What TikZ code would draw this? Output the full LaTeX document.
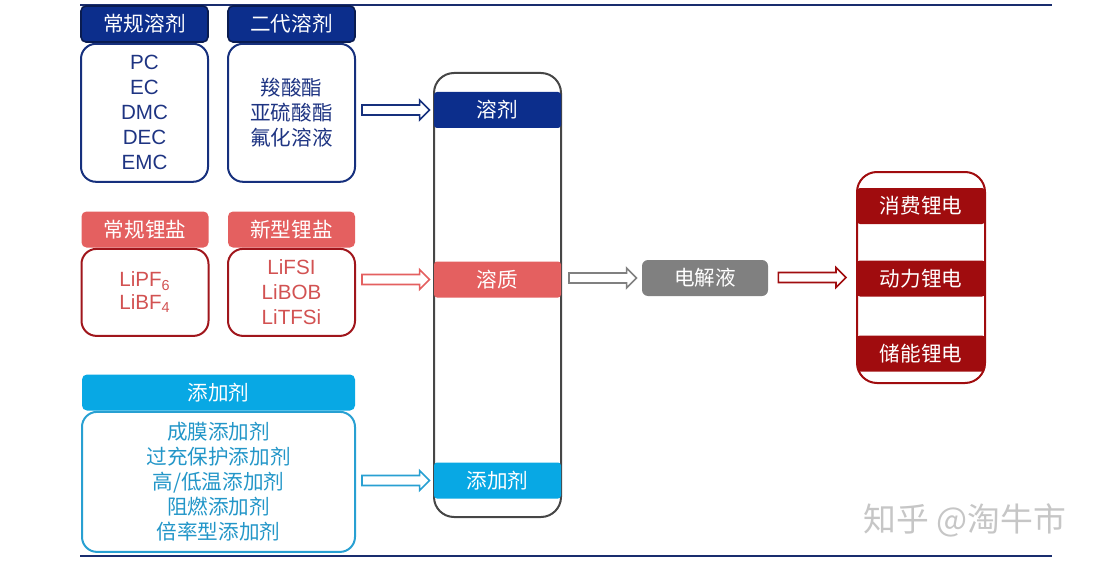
\documentclass[tikz,border=0pt]{standalone}
\usepackage{fontspec}
\setmainfont{Liberation Sans}
\newfontfamily\cjk{Noto Sans CJK SC}
\usetikzlibrary{positioning,calc}

\definecolor{navy}{RGB}{12,46,140}
\definecolor{navydark}{RGB}{10,28,80}
\definecolor{navyline}{RGB}{22,48,125}
\definecolor{navytext}{RGB}{30,52,130}
\definecolor{salmon}{RGB}{228,96,96}
\definecolor{salmontext}{RGB}{210,82,82}
\definecolor{winered}{RGB}{160,22,28}
\definecolor{skyblue}{RGB}{8,168,228}
\definecolor{skytext}{RGB}{35,150,200}
\definecolor{skyline}{RGB}{40,160,210}
\definecolor{midgray}{RGB}{70,70,70}
\definecolor{elgray}{RGB}{128,128,128}
\definecolor{darkred}{RGB}{160,12,14}
\definecolor{rulecol}{RGB}{25,45,110}

\newcommand\zhfont{\cjk\fontsize{10.3}{12.5}\selectfont}
\newcommand\enfont{\fontsize{10.3}{12.5}\selectfont}

\tikzset{
  hdr/.style={rounded corners=2.5pt, minimum width=63.5pt, minimum height=18pt,
    inner sep=0pt, text=white, font=\zhfont},
  listbox/.style={draw, line width=1pt, rounded corners=7.5pt, minimum width=63.5pt,
    inner sep=0pt, align=center, font=\zhfont},
  bar/.style={rounded corners=1.5pt, minimum width=63.5pt, minimum height=18pt,
    inner sep=0pt, text=white, font=\zhfont},
  tallbox/.style={line width=1pt, rounded corners=10pt, minimum width=63.5pt},
  fatarrow/.style 2 args={line width=0.8pt, fill=white, to path={
    let \p1=(\tikztostart), \p2=(\tikztotarget) in
    (\x1+#1,\y2+2.5pt) -- (\x2-#2-5pt,\y2+2.5pt) -- (\x2-#2-5pt,\y2+5pt)
    -- (\x2-#2,\y2) -- (\x2-#2-5pt,\y2-5pt) -- (\x2-#2-5pt,\y2-2.5pt)
    -- (\x1+#1,\y2-2.5pt) -- cycle}},
  rule/.style={draw=rulecol, line width=1pt}
}

\begin{document}
\begin{tikzpicture}[x=0.5pt, y=-0.5pt]
\useasboundingbox (0,0) rectangle (1097,567);

\draw[rule] (80,5) -- (1052,5);
\draw[rule] (80,556) -- (1052,556);

% solvents
\node[hdr, fill=navy, draw=navydark, line width=0.8pt] (hsolv1) at (144.5,24) {常规溶剂};
\node[listbox, draw=navyline, text=navytext, minimum height=69pt, font=\enfont,
  below=0pt of hsolv1] (solv1) {PC\\EC\\DMC\\DEC\\EMC};
\node[hdr, fill=navy, draw=navydark, line width=0.8pt] (hsolv2) at (291.5,24) {二代溶剂};
\node[listbox, draw=navyline, text=navytext, minimum height=69pt,
  below=0pt of hsolv2] (solv2) {羧酸酯\\亚硫酸酯\\氟化溶液};

% solutes
\node[hdr, fill=salmon] (hsolu1) at (145,229.5) {常规锂盐};
\node[listbox, draw=winered, text=salmontext, minimum height=43.5pt, font=\fontsize{10.3}{11.5}\selectfont,
  below=0pt of hsolu1] (solu1) {LiPF\textsubscript{6}\\LiBF\textsubscript{4}};
\node[hdr, fill=salmon] (hsolu2) at (291.5,229.5) {新型锂盐};
\node[listbox, draw=winered, text=salmontext, minimum height=43.5pt, font=\enfont,
  below=0pt of hsolu2] (solu2) {LiFSI\\LiBOB\\LiTFSi};

% additives
\node[hdr, fill=skyblue, minimum width=136.5pt] (hadd) at (218.5,392.5) {添加剂};
\node[listbox, draw=skyline, text=skytext, minimum width=136.5pt, minimum height=70pt,
  below=0pt of hadd] (add) {成膜添加剂\\过充保护添加剂\\高/低温添加剂\\阻燃添加剂\\倍率型添加剂};

% mixture column
\node[tallbox, draw=midgray, minimum height=222pt] (mix) at (497.5,295) {};
\node[bar, fill=navy] (bsolv) at (497.5,110) {溶剂};
\node[bar, fill=salmon] (bsolu) at (497.5,279.5) {溶质};
\node[bar, fill=skyblue] (badd) at (497.5,480.5) {添加剂};

% electrolyte
\node[bar, fill=elgray, rounded corners=3pt, minimum width=63pt] (elec) at (705,278) {电解液};

% applications
\node[tallbox, draw=darkred, minimum width=64pt, minimum height=105.5pt] (app) at (921,277.5) {};
\node[bar, fill=darkred, minimum width=64pt] (consumer) at (921,206) {消费锂电};
\node[bar, fill=darkred, minimum width=64pt] (power) at (921,278.5) {动力锂电};
\node[bar, fill=darkred, minimum width=64pt] (storage) at (921,353.5) {储能锂电};

% arrows
\draw[fatarrow={3pt}{2pt}, draw=navyline] (solv2.east) to (bsolv.west);
\draw[fatarrow={3pt}{2pt}, draw=salmon] (solu2.east) to (bsolu.west);
\draw[fatarrow={3pt}{2pt}, draw=skyline] (add.east) to (badd.west);
\draw[fatarrow={3.5pt}{2.5pt}, draw=elgray] (mix.east) to (elec.west);
\draw[fatarrow={5pt}{5pt}, draw=darkred] (elec.east) to (app.west);

\node[text=gray!45, font=\cjk\fontsize{16.4}{18}\selectfont] (mark) at (965,520) {知乎 @淘牛市};
\end{tikzpicture}
\end{document}
